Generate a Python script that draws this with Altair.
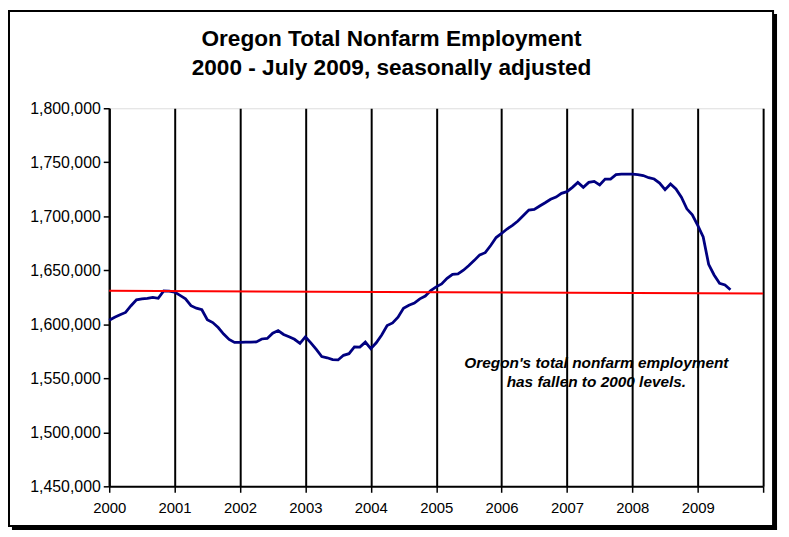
import altair as alt
import pandas as pd

# Monthly Oregon total nonfarm employment (thousands), seasonally adjusted
emp_2000 = [1603.7, 1606.6, 1608.9, 1611.0, 1617.2, 1622.7, 1623.6, 1624.1, 1625.0, 1624.1, 1631.0, 1630.7]
emp_2001 = [1629.8, 1626.8, 1623.6, 1617.2, 1614.9, 1613.5, 1604.2, 1601.6, 1597.0, 1591.0, 1586.0, 1583.2]
emp_2002 = [1583.2, 1583.5, 1583.5, 1583.7, 1586.4, 1586.9, 1591.7, 1594.2, 1590.6, 1588.4, 1586.1, 1582.3]
emp_2003 = [1588.4, 1582.8, 1576.8, 1570.1, 1569.0, 1567.3, 1567.0, 1571.3, 1572.8, 1579.1, 1578.9, 1583.5]
emp_2004 = [1577.4, 1582.9, 1590.1, 1598.8, 1601.3, 1606.6, 1614.9, 1617.7, 1619.7, 1623.6, 1626.2, 1631.3]
emp_2005 = [1634.7, 1637.4, 1642.5, 1646.3, 1646.6, 1650.1, 1654.4, 1659.2, 1664.3, 1666.3, 1672.9, 1680.3]
emp_2006 = [1684.1, 1688.2, 1691.6, 1695.6, 1700.7, 1705.8, 1706.3, 1709.5, 1712.5, 1715.8, 1717.8, 1721.2]
emp_2007 = [1722.8, 1726.8, 1731.4, 1726.8, 1731.4, 1732.3, 1729.0, 1734.5, 1734.5, 1738.5, 1739.1, 1739.1]
emp_2008 = [1739.1, 1738.6, 1737.7, 1735.7, 1734.5, 1730.8, 1724.7, 1729.9, 1725.3, 1717.6, 1706.9, 1701.4]
emp_2009 = [1691.6, 1680.9, 1655.5, 1645.7, 1638.0, 1636.5, 1631.9]

# Red reference line ("2000 levels")
ref_x = [2000, 2010]
ref_y = [1631000, 1628500]

year_ticks = list(range(2000, 2011))
y_ticks = list(range(1450000, 1800001, 50000))

title_lines = ["Oregon Total Nonfarm Employment", "2000 - July 2009, seasonally adjusted"]
note_lines = ["Oregon's total nonfarm employment", "has fallen to 2000 levels."]

series = (emp_2000 + emp_2001 + emp_2002 + emp_2003 + emp_2004 +
          emp_2005 + emp_2006 + emp_2007 + emp_2008 + emp_2009)
df = pd.DataFrame({
    "t": [2000 + i / 12 for i in range(len(series))],
    "emp": [round(v * 1000) for v in series],
})
ref_df = pd.DataFrame({"t": ref_x, "emp": ref_y})
one = pd.DataFrame({"a": [0]})

W, H = 659, 381
FONT = "Liberation Sans"

x_scale = alt.Scale(domain=[2000, 2010], nice=False, zero=False)
y_scale = alt.Scale(domain=[1450000, 1800000], nice=False, zero=False)

x_enc = alt.X(
    "t:Q", scale=x_scale,
    axis=alt.Axis(
        values=year_ticks, format="d", title=None, grid=True,
        gridColor="black", gridWidth=2, gridOpacity=1,
        labelExpr="datum.value == 2010 ? '' : datum.label",
        labelFlush=False, labelOverlap=False,
        tickSize=6, tickColor="black", tickWidth=1.5,
        domainColor="black", domainWidth=2,
        labelFont=FONT, labelFontSize=15, labelColor="black", labelPadding=8,
    ),
)
y_enc = alt.Y(
    "emp:Q", scale=y_scale,
    axis=alt.Axis(
        values=y_ticks, format=",.0f", title=None, grid=False,
        labelFlush=False, labelOverlap=False,
        tickSize=6, tickColor="black", tickWidth=1.5,
        domainColor="black", domainWidth=2,
        labelFont=FONT, labelFontSize=16, labelColor="black", labelPadding=3,
    ),
)

line = alt.Chart(df).mark_line(color="#000080", strokeWidth=2.8).encode(x=x_enc, y=y_enc)
ref = alt.Chart(ref_df).mark_line(color="#FF0000", strokeWidth=2).encode(x=x_enc, y=y_enc)

note = alt.Chart(one).mark_text(
    text=note_lines,
    font=FONT, fontSize=15.5, fontWeight="bold", fontStyle="italic",
    align="center", baseline="middle", lineHeight=19, color="black",
).encode(x=alt.datum(2007.45), y=alt.datum(1564000))

title1 = alt.Chart(one).mark_text(
    text=title_lines[0], font=FONT, fontSize=22.8, fontWeight="bold",
    align="center", baseline="middle", color="black",
).encode(x=alt.value(284.5), y=alt.value(-70))
title2 = alt.Chart(one).mark_text(
    text=title_lines[1], font=FONT, fontSize=22.8, fontWeight="bold",
    align="center", baseline="middle", color="black",
).encode(x=alt.value(284.5), y=alt.value(-41))

frame = alt.Chart(one).mark_rect(fill=None, stroke="black", strokeWidth=2).encode(
    x=alt.value(-101), x2=alt.value(669), y=alt.value(-98), y2=alt.value(421)
)
shadow_r = alt.Chart(one).mark_rule(color="black", strokeWidth=4).encode(
    x=alt.value(671), y=alt.value(-95), y2=alt.value(425)
)
shadow_b = alt.Chart(one).mark_rule(color="black", strokeWidth=4).encode(
    x=alt.value(-98), x2=alt.value(673), y=alt.value(423)
)

chart = alt.layer(line, ref, note, title1, title2, frame, shadow_r, shadow_b).properties(
    width=W, height=H,
    autosize=alt.AutoSizeParams(type="none"),
    padding={"left": 102, "top": 99, "right": 18, "bottom": 46},
).configure_view(stroke=None).configure(background="white")

chart.save("out.html", embed_options={"renderer": "svg", "actions": False})
